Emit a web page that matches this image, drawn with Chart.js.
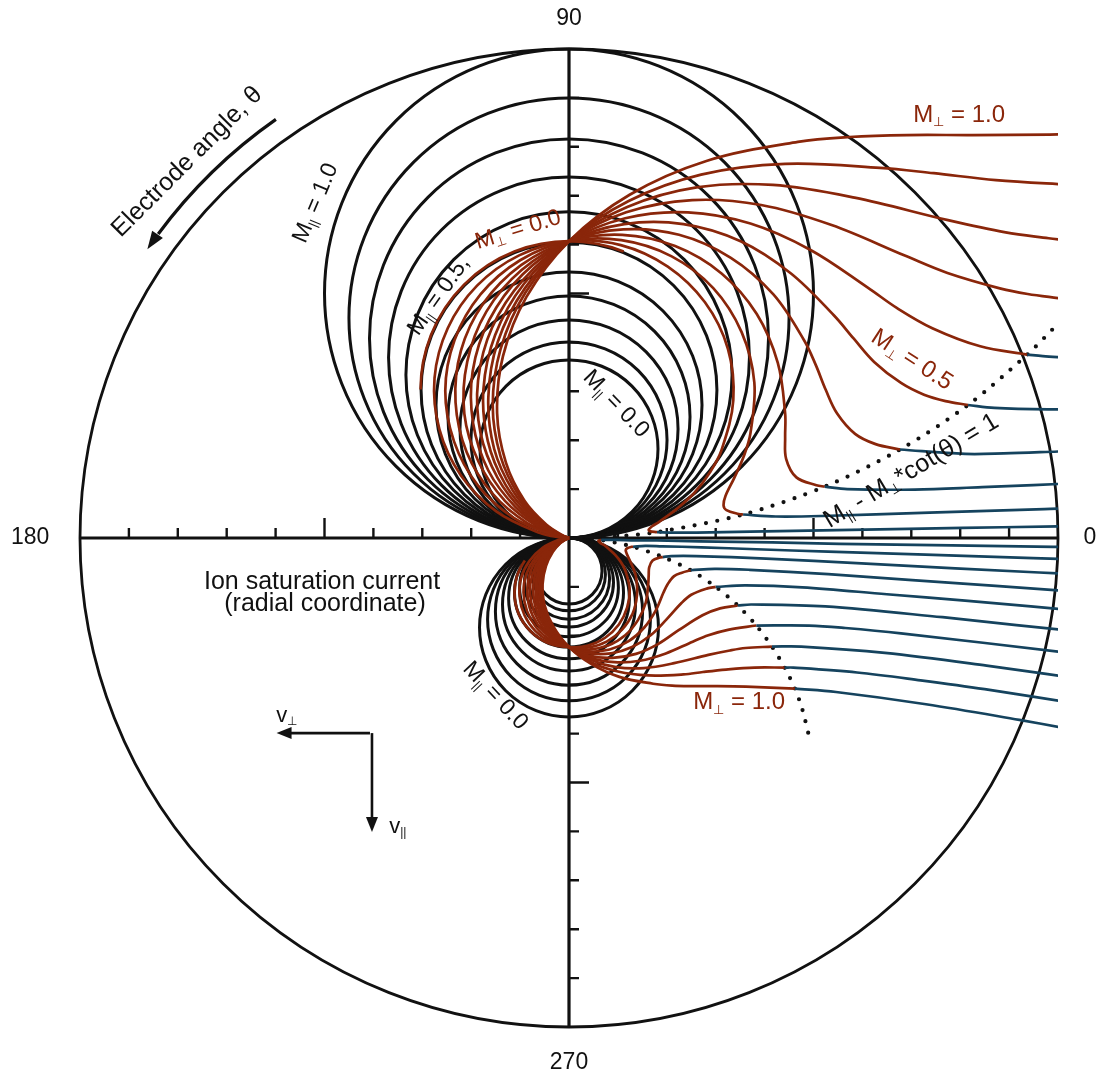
<!DOCTYPE html>
<html><head><meta charset="utf-8">
<script src="https://cdn.jsdelivr.net/npm/chart.js@4.4.1/dist/chart.umd.min.js"></script>
<style>html,body{margin:0;padding:0;background:#fff;}#wrap{width:1097px;height:1080px;}</style>
</head><body><div id="wrap"><canvas id="c" width="1097" height="1080"></canvas></div>
<script>
// ---------- DATA (radial coordinate: ion saturation current, outer circle = 1) ----------
const angleLabels = ['0', '90', '180', '270'];
const angleValues = [0, 90, 180, 270];
const radialTicks = [0.1, 0.2, 0.3, 0.4, 0.5, 0.6, 0.7, 0.8, 0.9];
const outerRadius = 1.0;

// black lobes, M_perp = 0, M_par = 0.0 ... 1.0 (diameter of each lobe)
const mParValues = [0.0, 0.1, 0.2, 0.3, 0.4, 0.5, 0.6, 0.7, 0.8, 0.9, 1.0];
const upperLobeDiameter = [0.364, 0.401, 0.446, 0.495, 0.544, 0.605, 0.667, 0.738, 0.816, 0.900, 1.000];
const lowerLobeDiameter = [0.366, 0.333, 0.301, 0.272, 0.247, 0.223, 0.202, 0.182, 0.166, 0.149, 0.135];

// M_par = 0.5, M_perp = 0.0 lobes (red)
const redLobeDiameterUpper = 0.607;
const redLobeDiameterLower = 0.223;

// M_par = 0.5, M_perp = 0.1 ... 1.0 ; [x, y] points, subsonic part (red) and supersonic part (blue)
const mPerpValues = [0.1, 0.2, 0.3, 0.4, 0.5, 0.6, 0.7, 0.8, 0.9, 1.0];

const upperSub01 = [[0,0],[-0.017,0.001],[-0.059,0.010],[-0.148,0.054],[-0.221,0.128],[-0.265,0.222],[-0.275,0.327],[-0.248,0.429],[-0.188,0.516],[-0.102,0.578],[0,0.607],[0.106,0.599],[0.202,0.555],[0.278,0.482],[0.325,0.387],[0.336,0.282],[0.312,0.180],[0.288,0.134],[0.257,0.093],[0.220,0.059],[0.197,0.042],[0.183,0.032],[0.170,0.024],[0.163,0.017],[0.165,0.014],[0.180,0.012]];
const upperSup01 = [[0.180,0.012],[0.214,0.011],[0.261,0.011],[0.371,0.013],[0.489,0.015],[0.723,0.019],[0.887,0.022],[1.128,0.026]];
const upperSub02 = [[0,0],[-0.033,0.006],[-0.113,0.041],[-0.186,0.107],[-0.235,0.197],[-0.253,0.301],[-0.234,0.405],[-0.181,0.498],[-0.100,0.568],[0,0.607],[0.107,0.609],[0.210,0.576],[0.295,0.511],[0.353,0.421],[0.379,0.318],[0.371,0.214],[0.357,0.166],[0.338,0.123],[0.320,0.086],[0.316,0.067],[0.322,0.057],[0.347,0.049],[0.356,0.048]];
const upperSup02 = [[0.356,0.048],[0.423,0.044],[0.518,0.045],[0.737,0.052],[0.972,0.059],[1.040,0.062]];
const upperSub03 = [[0,0],[-0.019,0.003],[-0.086,0.031],[-0.156,0.090],[-0.209,0.175],[-0.232,0.277],[-0.221,0.383],[-0.175,0.480],[-0.098,0.558],[0,0.607],[0.109,0.620],[0.217,0.597],[0.312,0.541],[0.384,0.458],[0.427,0.358],[0.442,0.255],[0.442,0.206],[0.444,0.162],[0.465,0.124],[0.506,0.108],[0.523,0.105]];
const upperSup03 = [[0.523,0.105],[0.569,0.100],[0.707,0.099],[0.845,0.104],[0.949,0.108],[1.095,0.115]];
const upperSub04 = [[0,0],[-0.011,0.002],[-0.065,0.024],[-0.131,0.076],[-0.185,0.156],[-0.214,0.254],[-0.208,0.361],[-0.169,0.463],[-0.097,0.548],[0,0.607],[0.111,0.631],[0.225,0.620],[0.331,0.573],[0.418,0.498],[0.481,0.404],[0.505,0.353],[0.525,0.303],[0.548,0.255],[0.585,0.213],[0.627,0.192],[0.677,0.181]];
const upperSup04 = [[0.677,0.181],[0.810,0.172],[0.889,0.173],[1.002,0.177]];
const upperSub05 = [[0,0],[-0.006,0.001],[-0.049,0.018],[-0.110,0.064],[-0.165,0.138],[-0.196,0.234],[-0.197,0.341],[-0.163,0.446],[-0.095,0.539],[0,0.607],[0.113,0.642],[0.234,0.642],[0.351,0.607],[0.454,0.541],[0.542,0.455],[0.582,0.408],[0.624,0.360],[0.679,0.317],[0.726,0.293],[0.770,0.280],[0.816,0.272]];
const upperSup05 = [[0.816,0.272],[0.870,0.266],[0.980,0.263],[1.058,0.264]];
const upperSub06 = [[0,0],[-0.003,0.001],[-0.037,0.014],[-0.093,0.054],[-0.146,0.123],[-0.181,0.215],[-0.186,0.322],[-0.157,0.431],[-0.093,0.529],[0,0.607],[0.115,0.654],[0.243,0.666],[0.371,0.643],[0.494,0.589],[0.611,0.512],[0.671,0.470],[0.743,0.429],[0.841,0.392],[0.937,0.375]];
const upperSup06 = [[0.937,0.375],[0.969,0.372],[1.014,0.369]];
const upperSub07 = [[0,0],[-0.028,0.010],[-0.078,0.045],[-0.130,0.109],[-0.166,0.198],[-0.175,0.304],[-0.151,0.415],[-0.092,0.520],[0,0.607],[0.117,0.666],[0.252,0.691],[0.393,0.681],[0.537,0.640],[0.688,0.577],[0.774,0.542],[0.883,0.510],[0.938,0.499],[1.004,0.490]];
const upperSub08 = [[0,0],[-0.022,0.008],[-0.066,0.038],[-0.115,0.097],[-0.153,0.182],[-0.165,0.287],[-0.146,0.400],[-0.090,0.511],[0,0.607],[0.119,0.677],[0.261,0.717],[0.417,0.722],[0.584,0.696],[0.775,0.650],[0.893,0.625],[0.981,0.613],[1.014,0.609]];
const upperSub09 = [[0,0],[-0.016,0.006],[-0.055,0.032],[-0.102,0.086],[-0.140,0.167],[-0.156,0.271],[-0.140,0.386],[-0.089,0.502],[0,0.607],[0.122,0.689],[0.270,0.743],[0.442,0.765],[0.636,0.757],[0.746,0.746],[0.873,0.732],[1.030,0.722]];
const upperSub10 = [[0,0],[-0.012,0.005],[-0.046,0.027],[-0.091,0.076],[-0.129,0.154],[-0.147,0.255],[-0.135,0.372],[-0.087,0.493],[0,0.607],[0.124,0.702],[0.281,0.771],[0.468,0.810],[0.574,0.820],[0.691,0.824],[0.824,0.824],[0.983,0.825],[1.058,0.827]];

const lowerSub01 = [[0,0],[-0.006,-0.001],[-0.022,-0.004],[-0.054,-0.020],[-0.081,-0.047],[-0.098,-0.082],[-0.101,-0.120],[-0.091,-0.158],[-0.069,-0.190],[-0.037,-0.213],[0,-0.223],[0.039,-0.220],[0.074,-0.204],[0.102,-0.177],[0.119,-0.142],[0.124,-0.104],[0.115,-0.066],[0.106,-0.049],[0.094,-0.034],[0.081,-0.022],[0.073,-0.015],[0.067,-0.012],[0.063,-0.009],[0.060,-0.006],[0.061,-0.005],[0.066,-0.004]];
const lowerSup01 = [[0.066,-0.004],[0.079,-0.004],[0.096,-0.004],[0.136,-0.005],[0.180,-0.005],[0.266,-0.007],[0.415,-0.009],[0.553,-0.012],[0.783,-0.015],[1.198,-0.021]];
const lowerSub02 = [[0,0],[-0.012,-0.002],[-0.041,-0.015],[-0.068,-0.039],[-0.087,-0.073],[-0.093,-0.111],[-0.086,-0.149],[-0.067,-0.183],[-0.037,-0.209],[0,-0.223],[0.040,-0.224],[0.077,-0.212],[0.108,-0.188],[0.130,-0.155],[0.139,-0.117],[0.137,-0.079],[0.131,-0.061],[0.124,-0.045],[0.118,-0.032],[0.116,-0.025],[0.119,-0.021],[0.128,-0.018],[0.131,-0.018]];
const lowerSup02 = [[0.131,-0.018],[0.156,-0.016],[0.191,-0.017],[0.271,-0.019],[0.383,-0.023],[0.530,-0.028],[0.729,-0.034],[0.949,-0.041],[1.103,-0.046]];
const lowerSub03 = [[0,0],[-0.007,-0.001],[-0.031,-0.011],[-0.057,-0.033],[-0.077,-0.064],[-0.085,-0.102],[-0.081,-0.141],[-0.064,-0.177],[-0.036,-0.205],[0,-0.223],[0.040,-0.228],[0.080,-0.220],[0.115,-0.199],[0.141,-0.168],[0.157,-0.132],[0.162,-0.094],[0.163,-0.076],[0.164,-0.060],[0.171,-0.046],[0.186,-0.040],[0.192,-0.039]];
const lowerSup03 = [[0.192,-0.039],[0.209,-0.037],[0.260,-0.037],[0.403,-0.042],[0.598,-0.052],[0.790,-0.062],[1.133,-0.079]];
const lowerSub04 = [[0,0],[-0.004,-0.001],[-0.024,-0.009],[-0.048,-0.028],[-0.068,-0.057],[-0.079,-0.094],[-0.077,-0.133],[-0.062,-0.170],[-0.036,-0.202],[0,-0.223],[0.041,-0.232],[0.083,-0.228],[0.122,-0.211],[0.154,-0.183],[0.177,-0.149],[0.193,-0.112],[0.202,-0.094],[0.215,-0.078],[0.231,-0.071],[0.249,-0.066]];
const lowerSup04 = [[0.249,-0.066],[0.298,-0.063],[0.369,-0.065],[0.530,-0.074],[0.702,-0.086],[1.043,-0.110]];
const lowerSub05 = [[0,0],[-0.018,-0.007],[-0.041,-0.023],[-0.061,-0.051],[-0.072,-0.086],[-0.072,-0.125],[-0.060,-0.164],[-0.035,-0.198],[0,-0.223],[0.042,-0.236],[0.086,-0.236],[0.129,-0.223],[0.167,-0.199],[0.199,-0.167],[0.230,-0.133],[0.250,-0.116],[0.283,-0.103],[0.300,-0.100]];
const lowerSup05 = [[0.300,-0.100],[0.361,-0.097],[0.477,-0.101],[0.650,-0.115],[0.810,-0.128],[1.079,-0.152]];
const lowerSub06 = [[0,0],[-0.014,-0.005],[-0.034,-0.020],[-0.054,-0.045],[-0.066,-0.079],[-0.068,-0.118],[-0.058,-0.158],[-0.034,-0.195],[0,-0.223],[0.042,-0.241],[0.089,-0.245],[0.137,-0.237],[0.182,-0.217],[0.225,-0.188],[0.273,-0.158],[0.309,-0.144],[0.345,-0.138]];
const lowerSup06 = [[0.345,-0.138],[0.373,-0.136],[0.524,-0.140],[0.764,-0.162],[0.915,-0.178],[1.147,-0.202]];
const lowerSub07 = [[0,0],[-0.010,-0.004],[-0.029,-0.017],[-0.048,-0.040],[-0.061,-0.073],[-0.065,-0.112],[-0.056,-0.153],[-0.034,-0.191],[0,-0.223],[0.043,-0.245],[0.093,-0.254],[0.145,-0.251],[0.198,-0.236],[0.253,-0.212],[0.285,-0.199],[0.325,-0.188],[0.383,-0.179]];
const lowerSup07 = [[0.383,-0.179],[0.491,-0.179],[0.565,-0.184],[0.679,-0.195],[1.014,-0.234]];
const lowerSub08 = [[0,0],[-0.008,-0.003],[-0.024,-0.014],[-0.042,-0.036],[-0.056,-0.067],[-0.061,-0.105],[-0.054,-0.147],[-0.033,-0.188],[0,-0.223],[0.044,-0.249],[0.096,-0.264],[0.153,-0.266],[0.215,-0.256],[0.285,-0.239],[0.329,-0.230],[0.361,-0.225],[0.415,-0.222]];
const lowerSup08 = [[0.415,-0.222],[0.475,-0.222],[0.646,-0.235],[0.854,-0.261],[1.104,-0.296]];
const lowerSub09 = [[0,0],[-0.006,-0.002],[-0.020,-0.012],[-0.038,-0.032],[-0.052,-0.062],[-0.057,-0.100],[-0.052,-0.142],[-0.033,-0.185],[0,-0.223],[0.045,-0.254],[0.100,-0.273],[0.162,-0.281],[0.234,-0.279],[0.274,-0.274],[0.321,-0.269],[0.379,-0.265],[0.441,-0.265]];
const lowerSup09 = [[0.441,-0.265],[0.459,-0.265],[0.589,-0.275],[0.719,-0.291],[0.850,-0.309],[1.047,-0.340]];
const lowerSub10 = [[0,0],[-0.005,-0.002],[-0.017,-0.010],[-0.033,-0.028],[-0.047,-0.057],[-0.054,-0.094],[-0.050,-0.137],[-0.032,-0.181],[0,-0.223],[0.046,-0.258],[0.103,-0.284],[0.172,-0.298],[0.211,-0.302],[0.254,-0.303],[0.303,-0.303],[0.362,-0.304],[0.462,-0.308]];
const lowerSup10 = [[0.462,-0.308],[0.546,-0.315],[0.730,-0.340],[0.921,-0.372],[1.010,-0.388]];

// locus M_par - M_perp*cot(theta) = 1 (dotted)
const sonicUpper = [[0,0],[0.090,0.003],[0.180,0.012],[0.356,0.048],[0.523,0.105],[0.677,0.181],[0.816,0.272],[0.937,0.375],[0.992,0.430],[1.002,0.441]];
const sonicLower = [[0,0],[0.033,-0.001],[0.066,-0.004],[0.131,-0.018],[0.192,-0.039],[0.249,-0.066],[0.300,-0.100],[0.345,-0.138],[0.383,-0.179],[0.415,-0.222],[0.441,-0.265],[0.462,-0.308],[0.477,-0.350],[0.491,-0.406]];

// ---------- STYLE ----------
const RED = '#8a260a', BLUE = '#15435e', INK = '#111111';
const FONT = '"Liberation Sans", Arial, Helvetica, sans-serif';

const upperSubs = [upperSub01, upperSub02, upperSub03, upperSub04, upperSub05, upperSub06, upperSub07, upperSub08, upperSub09, upperSub10];
const upperSups = [upperSup01, upperSup02, upperSup03, upperSup04, upperSup05, upperSup06];
const lowerSubs = [lowerSub01, lowerSub02, lowerSub03, lowerSub04, lowerSub05, lowerSub06, lowerSub07, lowerSub08, lowerSub09, lowerSub10];
const lowerSups = [lowerSup01, lowerSup02, lowerSup03, lowerSup04, lowerSup05, lowerSup06, lowerSup07, lowerSup08, lowerSup09, lowerSup10];

function lineSet(pts, color, width, label) {
  return { label, data: pts.map(p => ({x: p[0], y: p[1]})), showLine: true, borderColor: color,
           backgroundColor: color, borderWidth: width, pointRadius: 0, pointHoverRadius: 0, fill: false, tension: 0.35 };
}
const datasets = [];
upperSups.forEach((s, i) => datasets.push(lineSet(s, BLUE, 2.7, 'upper sup M⊥=' + mPerpValues[i])));
lowerSups.forEach((s, i) => datasets.push(lineSet(s, BLUE, 2.7, 'lower sup M⊥=' + mPerpValues[i])));
upperSubs.forEach((s, i) => datasets.push(lineSet(s, RED, 2.7, 'upper sub M⊥=' + mPerpValues[i])));
lowerSubs.forEach((s, i) => datasets.push(lineSet(s, RED, 2.7, 'lower sub M⊥=' + mPerpValues[i])));
[sonicUpper, sonicLower].forEach(s => {
  const d = lineSet(s, INK, 4.2, 'sonic');
  d.borderDash = [0, 11.5]; d.borderCapStyle = 'round'; d.tension = 0.3;
  datasets.push(d);
});

function richText(ctx, parts, x, y, rot, size, color) {
  ctx.save();
  ctx.translate(x, y); ctx.rotate(rot * Math.PI / 180);
  ctx.fillStyle = color; ctx.textBaseline = 'middle'; ctx.textAlign = 'left';
  let w = 0;
  const segs = parts.map(p => {
    const s = p[1] ? size * 0.55 : size;
    ctx.font = s + 'px ' + FONT;
    const mw = ctx.measureText(p[0]).width;
    w += mw;
    return {t: p[0], s, sub: p[1], mw};
  });
  let cx = -w / 2;
  segs.forEach(g => {
    ctx.font = g.s + 'px ' + FONT;
    ctx.fillText(g.t, cx, g.sub ? size * 0.3 : 0);
    cx += g.mw;
  });
  ctx.restore();
}
function arrowHead(ctx, tx, ty, dx, dy, len, half) {
  const n = Math.hypot(dx, dy); dx /= n; dy /= n;
  ctx.beginPath();
  ctx.moveTo(tx, ty);
  ctx.lineTo(tx - dx * len - dy * half, ty - dy * len + dx * half);
  ctx.lineTo(tx - dx * len + dy * half, ty - dy * len - dx * half);
  ctx.closePath(); ctx.fill();
}

const textLabels = [
  {parts: [['Electrode angle, θ', 0]], x: -0.781, y: 0.769, rot: -45, size: 25, color: INK},
  {parts: [['M', 0], ['||', 1], [' = 1.0', 0]], x: -0.518, y: 0.685, rot: -67, size: 23, color: INK},
  {parts: [['M', 0], ['||', 1], [' = 0.5,', 0]], x: -0.266, y: 0.495, rot: -55, size: 23, color: INK},
  {parts: [['M', 0], ['⊥', 1], [' = 0.0', 0]], x: -0.104, y: 0.630, rot: -17, size: 23, color: RED},
  {parts: [['M', 0], ['||', 1], [' = 0.0', 0]], x: 0.096, y: 0.274, rot: 46, size: 23, color: INK},
  {parts: [['M', 0], ['||', 1], [' = 0.0', 0]], x: -0.151, y: -0.323, rot: 47, size: 23, color: INK},
  {parts: [['M', 0], ['⊥', 1], [' = 1.0', 0]], x: 0.798, y: 0.865, rot: 0, size: 24, color: RED},
  {parts: [['M', 0], ['⊥', 1], [' = 0.5', 0]], x: 0.701, y: 0.364, rot: 33, size: 24, color: RED},
  {parts: [['M', 0], ['⊥', 1], [' = 1.0', 0]], x: 0.348, y: -0.337, rot: 0, size: 24, color: RED},
  {parts: [['M', 0], ['||', 1], [' - M', 0], ['⊥', 1], ['*cot(θ) = 1', 0]], x: 0.700, y: 0.137, rot: -31, size: 25, color: INK},
  {parts: [['Ion saturation current', 0]], x: -0.505, y: -0.090, rot: 0, size: 25, color: INK},
  {parts: [['(radial coordinate)', 0]], x: -0.499, y: -0.136, rot: 0, size: 25, color: INK},
  {parts: [['v', 0], ['⊥', 1]], x: -0.577, y: -0.363, rot: 0, size: 22, color: INK},
  {parts: [['v', 0], ['||', 1]], x: -0.350, y: -0.590, rot: 0, size: 22, color: INK}
];
const angleLabelRadius = [1.065, 1.063, 1.102, 1.072];

const polarFrame = {
  id: 'polarFrame',
  beforeDatasetsDraw(chart) {
    const ctx = chart.ctx, xs = chart.scales.x, ys = chart.scales.y;
    const px = v => xs.getPixelForValue(v), py = v => ys.getPixelForValue(v);
    const u = px(1) - px(0);
    const cx = px(0), cy = py(0);
    ctx.save();
    ctx.strokeStyle = INK; ctx.lineCap = 'butt';
    ctx.lineWidth = 2.8;
    ctx.beginPath(); ctx.arc(cx, cy, u * outerRadius, 0, Math.PI * 2); ctx.stroke();
    ctx.lineWidth = 3.2;
    ctx.beginPath();
    ctx.moveTo(px(-outerRadius), cy); ctx.lineTo(px(outerRadius), cy);
    ctx.moveTo(cx, py(outerRadius)); ctx.lineTo(cx, py(-outerRadius));
    ctx.stroke();
    ctx.lineWidth = 2.4;
    radialTicks.forEach(t => {
      const major = Math.abs(t - 0.5) < 1e-6;
      const L = major ? 20 : 10;
      [t, -t].forEach(v => {
        ctx.beginPath();
        ctx.moveTo(px(v), cy); ctx.lineTo(px(v), cy - L);
        ctx.moveTo(cx, py(v)); ctx.lineTo(cx + L, py(v));
        ctx.stroke();
      });
    });
    ctx.lineWidth = 3;
    upperLobeDiameter.forEach(D => {
      ctx.beginPath(); ctx.arc(cx, py(D / 2), u * D / 2, 0, Math.PI * 2); ctx.stroke();
    });
    lowerLobeDiameter.forEach(D => {
      ctx.beginPath(); ctx.arc(cx, py(-D / 2), u * D / 2, 0, Math.PI * 2); ctx.stroke();
    });
    ctx.strokeStyle = RED; ctx.lineWidth = 2.7;
    ctx.beginPath(); ctx.arc(cx, py(redLobeDiameterUpper / 2), u * redLobeDiameterUpper / 2, Math.PI, Math.PI * 1.62); ctx.stroke();
    ctx.beginPath(); ctx.arc(cx, py(-redLobeDiameterLower / 2), u * redLobeDiameterLower / 2, Math.PI * 0.5, Math.PI * 1.2); ctx.stroke();
    ctx.restore();
  },
  afterDatasetsDraw(chart) {
    const ctx = chart.ctx, xs = chart.scales.x, ys = chart.scales.y;
    const px = v => xs.getPixelForValue(v), py = v => ys.getPixelForValue(v);
    const u = px(1) - px(0);
    const cx = px(0), cy = py(0);
    ctx.save();
    angleValues.forEach((a, i) => {
      const r = angleLabelRadius[i], rad = a * Math.PI / 180;
      richText(ctx, [[angleLabels[i], 0]], px(r * Math.cos(rad)), py(r * Math.sin(rad)), 0, 23, INK);
    });
    textLabels.forEach(l => richText(ctx, l.parts, px(l.x), py(l.y), l.rot, l.size, l.color));
    ctx.strokeStyle = INK; ctx.fillStyle = INK; ctx.lineWidth = 3.2;
    const R = u * 1.045;
    const a0 = 125 * Math.PI / 180, a1 = 143.5 * Math.PI / 180, aT = 145.6 * Math.PI / 180;
    ctx.beginPath(); ctx.arc(cx, cy, R, -a0, -a1, true); ctx.stroke();
    const tx = cx + R * Math.cos(aT), ty = cy - R * Math.sin(aT);
    arrowHead(ctx, tx, ty, -Math.sin(aT), -Math.cos(aT), 18, 6.5);
    const ox = px(-0.407), oy = py(-0.399);
    ctx.lineWidth = 2.6;
    ctx.beginPath(); ctx.moveTo(ox, oy); ctx.lineTo(px(-0.575), oy); ctx.stroke();
    arrowHead(ctx, px(-0.598), oy, -1, 0, 15, 6);
    ctx.beginPath(); ctx.moveTo(ox + 2, oy); ctx.lineTo(ox + 2, py(-0.578)); ctx.stroke();
    arrowHead(ctx, ox + 2, py(-0.601), 0, 1, 15, 6);
    ctx.restore();
  }
};

new Chart(document.getElementById('c'), {
  type: 'scatter',
  data: { datasets },
  options: {
    responsive: false, animation: false, devicePixelRatio: 1,
    layout: { padding: { left: 0, right: 39, top: 0, bottom: 0 } },
    plugins: { legend: { display: false }, tooltip: { enabled: false }, title: { display: false } },
    events: [],
    scales: {
      x: { type: 'linear', min: -1.1636, max: 1.0, display: false },
      y: { type: 'linear', min: -1.1084, max: 1.1002, display: false }
    }
  },
  plugins: [polarFrame]
});
</script></body></html>
